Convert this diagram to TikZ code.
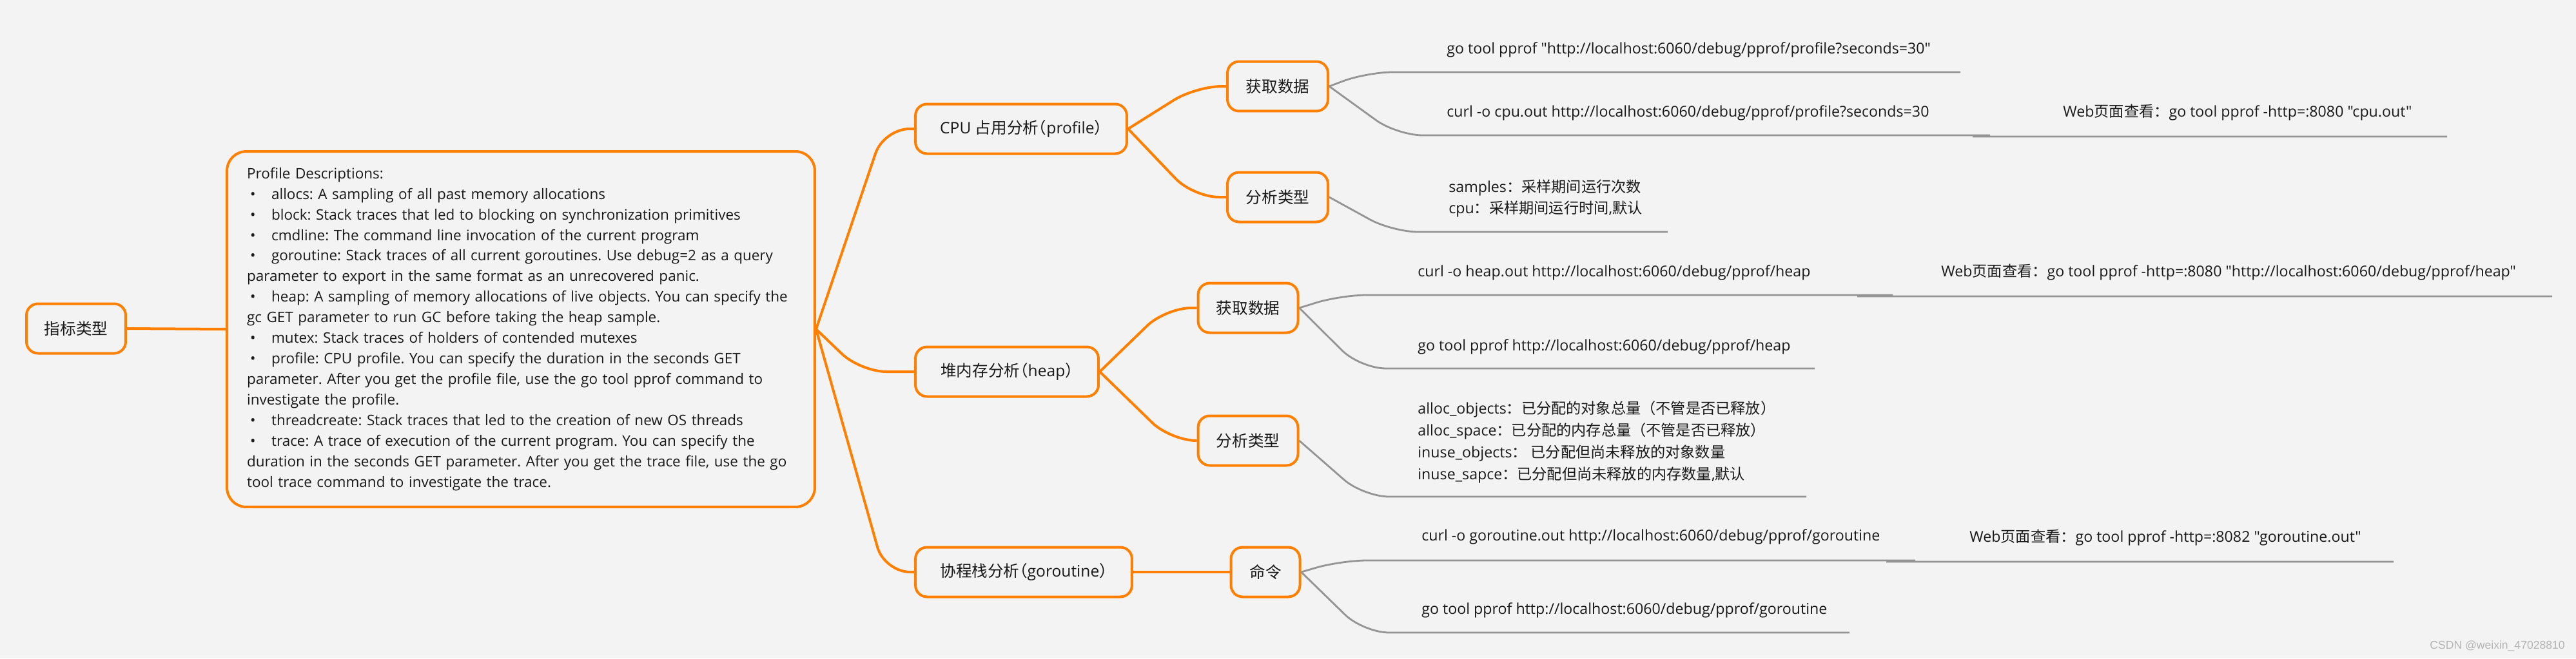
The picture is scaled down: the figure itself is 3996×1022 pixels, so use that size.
\documentclass[tikz,border=0pt]{standalone}
\usepackage{fontspec}
\setmainfont{Open Sans}[Ligatures=TeXOff]
\newfontfamily\cjkfont{Noto Sans CJK SC}[Ligatures=TeXOff]
\newfontfamily\cjkhalf{Noto Sans CJK SC}[Ligatures=TeXOff, RawFeature=+halt]
\newfontfamily\wmfont{Liberation Sans}
\usepackage{xcolor}
\usetikzlibrary{positioning}

\definecolor{xorange}{RGB}{255,128,0}
\definecolor{xgray}{RGB}{148,148,148}
\definecolor{paper}{RGB}{243,243,243}
\definecolor{ink}{RGB}{25,25,25}

\newcommand{\zh}[1]{{\cjkfont #1}}
\newcommand{\zhp}[1]{{\cjkhalf #1}}
\newcommand{\bulitem}{\makebox[0.76cm][l]{\hspace{0.1cm}•}}

\begin{document}
\frenchspacing
\begin{tikzpicture}[
    x=0.02cm, y=-0.02cm,
    box/.style={rectangle, draw=xorange, line width=0.08cm, rounded corners=0.36cm,
                minimum height=1.54cm, inner sep=0pt, text=ink,
                font=\fontsize{14pt}{17pt}\selectfont},
    descbox/.style={box, rounded corners=0.6cm, minimum width=18.24cm, minimum height=11.04cm,
                    text width=17cm, inner xsep=0.62cm, align=left,
                    font=\fontsize{12.8pt}{18.2pt}\selectfont},
    leaf/.style={anchor=west, inner sep=0pt, align=left, text=ink,
                 font=\fontsize{13.2pt}{19.3pt}\selectfont},
    oline/.style={draw=xorange, line width=0.08cm, rounded corners=0.8cm},
    gline/.style={draw=xgray, line width=0.056cm, rounded corners=0.8cm}
]
\fill[paper] (0,0) rectangle (3996,1022);
\useasboundingbox (0,0) rectangle (3996,1022);

% topics
\node[box, minimum width=3.08cm] (root) at (118,510) {\zh{指标类型}};
\node[descbox] (desc) at (808,511) {Profile Descriptions:\\
\bulitem allocs: A sampling of all past memory allocations\\
\bulitem block: Stack traces that led to blocking on synchronization primitives\\
\bulitem cmdline: The command line invocation of the current program\\
\bulitem goroutine: Stack traces of all current goroutines. Use debug=2 as a query\\
parameter to export in the same format as an unrecovered panic.\\
\bulitem heap: A sampling of memory allocations of live objects. You can specify the\\
gc GET parameter to run GC before taking the heap sample.\\
\bulitem mutex: Stack traces of holders of contended mutexes\\
\bulitem profile: CPU profile. You can specify the duration in the seconds GET\\
parameter. After you get the profile file, use the go tool pprof command to\\
investigate the profile.\\
\bulitem threadcreate: Stack traces that led to the creation of new OS threads\\
\bulitem trace: A trace of execution of the current program. You can specify the\\
duration in the seconds GET parameter. After you get the trace file, use the go\\
tool trace command to investigate the trace.};

\node[box, minimum width=6.56cm] (cpu)     at (1584,200) {CPU \zh{占用分析}\zhp{（}profile\zhp{）}};
\node[box, minimum width=3.12cm] (cpuget)  at (1982,134) {\zh{获取数据}};
\node[box, minimum width=3.12cm] (cpuana)  at (1982,306) {\zh{分析类型}};
\node[box, minimum width=5.68cm] (heap)    at (1562,577) {\zh{堆内存分析}\zhp{（}heap\zhp{）}};
\node[box, minimum width=3.1cm]  (heapget) at (1936,478) {\zh{获取数据}};
\node[box, minimum width=3.1cm]  (heapana) at (1936,684) {\zh{分析类型}};
\node[box, minimum width=6.72cm] (gor)     at (1588,888) {\zh{协程栈分析}\zhp{（}goroutine\zhp{）}};
\node[box, minimum width=2.14cm] (cmd)     at (1963,888) {\zh{命令}};

% leaves
\node[leaf] (cpuweb1)  at (2244,77)  {go tool pprof "http://localhost:6060/debug/pprof/profile?seconds=30"};
\node[leaf] (cpucurl)  at (2244,175) {curl -o cpu.out http://localhost:6060/debug/pprof/profile?seconds=30};
\node[leaf] (cpuweb2)  at (3200,175) {Web\zh{页面查看：}go tool pprof -http=:8080 "cpu.out"};
\node[leaf] (cputypes) at (2247,308) {samples\zh{：采样期间运行次数}\\cpu\zh{：采样期间运行时间},\zh{默认}};
\node[leaf] (heapcurl) at (2199,423) {curl -o heap.out http://localhost:6060/debug/pprof/heap};
\node[leaf] (heapweb)  at (3011,423) {Web\zh{页面查看：}go tool pprof -http=:8080 "http://localhost:6060/debug/pprof/heap"};
\node[leaf] (heaptool) at (2199,538) {go tool pprof http://localhost:6060/debug/pprof/heap};
\node[leaf] (heaptypes) at (2199,686) {alloc\_objects\zh{：已分配的对象总量（不管是否已释放）}\\
alloc\_space\zh{：已分配的内存总量（不管是否已释放）}\\
inuse\_objects\zh{：}\ \zh{已分配但尚未释放的对象数量}\\
inuse\_sapce\zh{：已分配但尚未释放的内存数量},\zh{默认}};
\node[leaf] (gorcurl)  at (2205,833) {curl -o goroutine.out http://localhost:6060/debug/pprof/goroutine};
\node[leaf] (gorweb)   at (3055,835) {Web\zh{页面查看：}go tool pprof -http=:8082 "goroutine.out"};
\node[leaf] (gortool)  at (2205,947) {go tool pprof http://localhost:6060/debug/pprof/goroutine};
\node[anchor=east, inner sep=0pt, text=xgray!70, font=\wmfont\fontsize{10pt}{12pt}\selectfont]
    (mark) at (3979,1003) {CSDN @weixin\_47028810};

% underline ends
\coordinate (u1)  at (3041,112);
\coordinate (u2)  at (3796,212);
\coordinate (u3)  at (2587,360);
\coordinate (u4)  at (3959,460);
\coordinate (u5)  at (2815,572);
\coordinate (u6)  at (2802,771);
\coordinate (u7)  at (3713,872);
\coordinate (u8)  at (2869,982);

% orange branches
\draw[oline] (root.east) -- (desc.west);
\draw[oline] (desc.east) -- (1371,200) -- (cpu.west);
\draw[oline] (desc.east) -- (1335,577) -- (heap.west);
\draw[oline] (desc.east) -- (1372,888) -- (gor.west);
\draw[oline] (cpu.east) -- (1855,134) -- (cpuget.west);
\draw[oline] (cpu.east) -- (1851,306) -- (cpuana.west);
\draw[oline] (heap.east) -- (1808,478) -- (heapget.west);
\draw[oline] (heap.east) -- (1816,684) -- (heapana.west);
\draw[oline] (gor.east) -- (cmd.west);

% gray branches
\draw[gline] (cpuget.east) -- (2120,112) -- (u1);
\draw[gline] (cpuget.east) -- (2167,210) -- (3047,210)
    .. controls (3075,210) and (3072,212) .. (3100,212) -- (u2);
\draw[gline] (cpuana.east) -- (2160,360) -- (u3);
\draw[gline] (heapget.east) -- (2080,458) -- (2896,458)
    .. controls (2910,458) and (2907,460) .. (2921,460) -- (u4);
\draw[gline] (heapget.east) -- (2110,572) -- (u5);
\draw[gline] (heapana.east) -- (2115,771) -- (u6);
\draw[gline] (cmd.east) -- (2080,870) -- (2931,870)
    .. controls (2950,870) and (2947,872) .. (2966,872) -- (u7);
\draw[gline] (cmd.east) -- (2115,982) -- (u8);
\end{tikzpicture}
\end{document}
